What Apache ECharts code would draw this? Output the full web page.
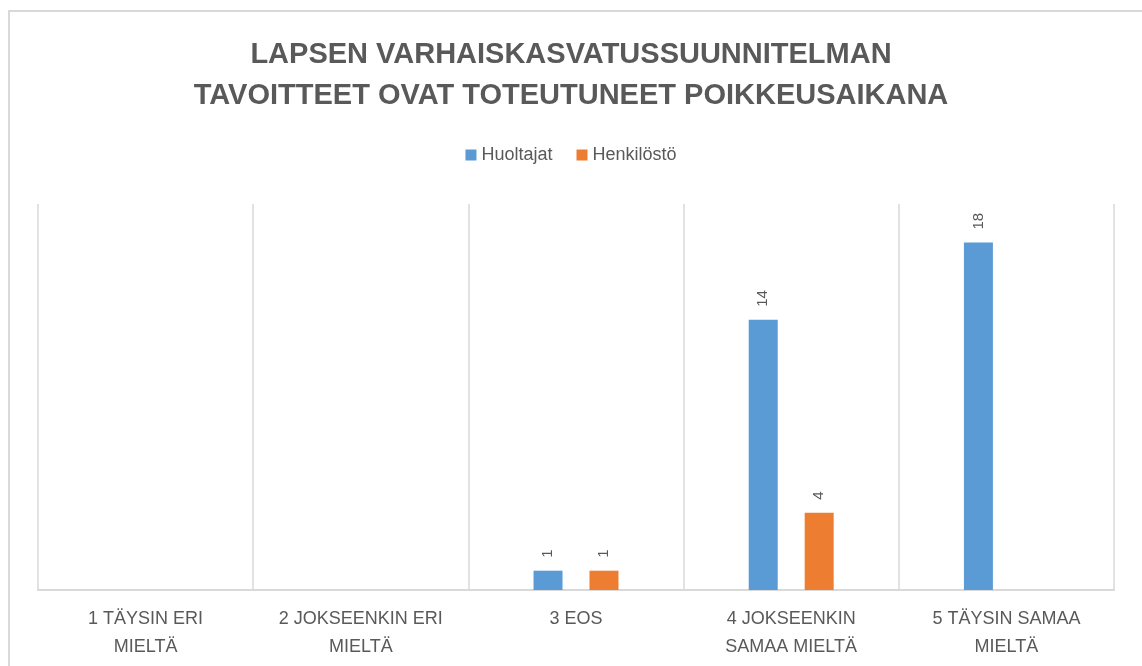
<!DOCTYPE html>
<html lang="fi">
	<head>
		<meta charset="UTF-8" />
		<title>Chart</title>
		<style>
			html, body { margin: 0; padding: 0; background: #fff; }
			#chart { width: 1142px; height: 666px; }
		</style>
	</head>
	<body>
		<div id="chart"></div>
		<script src="https://cdn.jsdelivr.net/npm/echarts@6/dist/echarts.min.js"></script>
		<script>
			const categories = [
				"1 TÄYSIN ERI\nMIELTÄ",
				"2 JOKSEENKIN ERI\nMIELTÄ",
				"3 EOS",
				"4 JOKSEENKIN\nSAMAA MIELTÄ",
				"5 TÄYSIN SAMAA\nMIELTÄ",
			];
			const huoltajat = [null, null, 1, 14, 18];
			const henkilosto = [null, null, 1, 4, null];

			const textColor = "#595959";
			const lineColor = "#d9d9d9";

			window.onload = function () {
				let chart = echarts.init(document.getElementById("chart"));
				let labelStyle = {
					show: true,
					position: "top",
					rotate: 90,
					align: "left",
					verticalAlign: "middle",
					distance: 13,
					color: textColor,
					fontSize: 15,
					fontFamily: "Liberation Sans",
					formatter: "{c}",
				};
				let option = {
					animation: false,
					backgroundColor: "#fff",
					graphic: [
						{
							type: "rect",
							shape: { x: 9, y: 11, width: 1200, height: 700 },
							style: { fill: "none", stroke: lineColor, lineWidth: 2 },
							silent: true,
						},
					],
					title: {
						text: "LAPSEN VARHAISKASVATUSSUUNNITELMAN\nTAVOITTEET OVAT TOTEUTUNEET POIKKEUSAIKANA",
						left: "center",
						top: 29,
						textStyle: {
							color: textColor,
							fontSize: 29,
							fontWeight: "bold",
							fontFamily: "Liberation Sans",
							lineHeight: 41,
							align: "center",
						},
					},
					legend: {
						top: 141,
						left: "center",
						icon: "rect",
						itemWidth: 11,
						itemHeight: 11,
						itemGap: 24,
						textStyle: {
							color: textColor,
							fontSize: 18,
							fontFamily: "Liberation Sans",
						},
					},
					grid: {
						left: 38,
						right: 28,
						top: 204,
						bottom: 76,
					},
					xAxis: {
						type: "category",
						data: categories,
						boundaryGap: true,
						axisLine: { lineStyle: { color: lineColor, width: 2 } },
						axisTick: { show: false },
						splitLine: { show: true, lineStyle: { color: lineColor, width: 1.5 } },
						axisLabel: {
							color: textColor,
							fontSize: 18,
							fontFamily: "Liberation Sans",
							lineHeight: 28,
							margin: 15,
							interval: 0,
						},
					},
					yAxis: {
						type: "value",
						min: 0,
						max: 20,
						show: false,
						splitLine: { show: false },
					},
					series: [
						{
							name: "Huoltajat",
							type: "bar",
							data: huoltajat,
							barWidth: 29,
							barGap: "93%",
							itemStyle: { color: "#5b9bd5" },
							label: labelStyle,
						},
						{
							name: "Henkilöstö",
							type: "bar",
							data: henkilosto,
							barWidth: 29,
							itemStyle: { color: "#ed7d31" },
							label: labelStyle,
						},
					],
				};
				chart.setOption(option);
			};
		</script>
	</body>
</html>
